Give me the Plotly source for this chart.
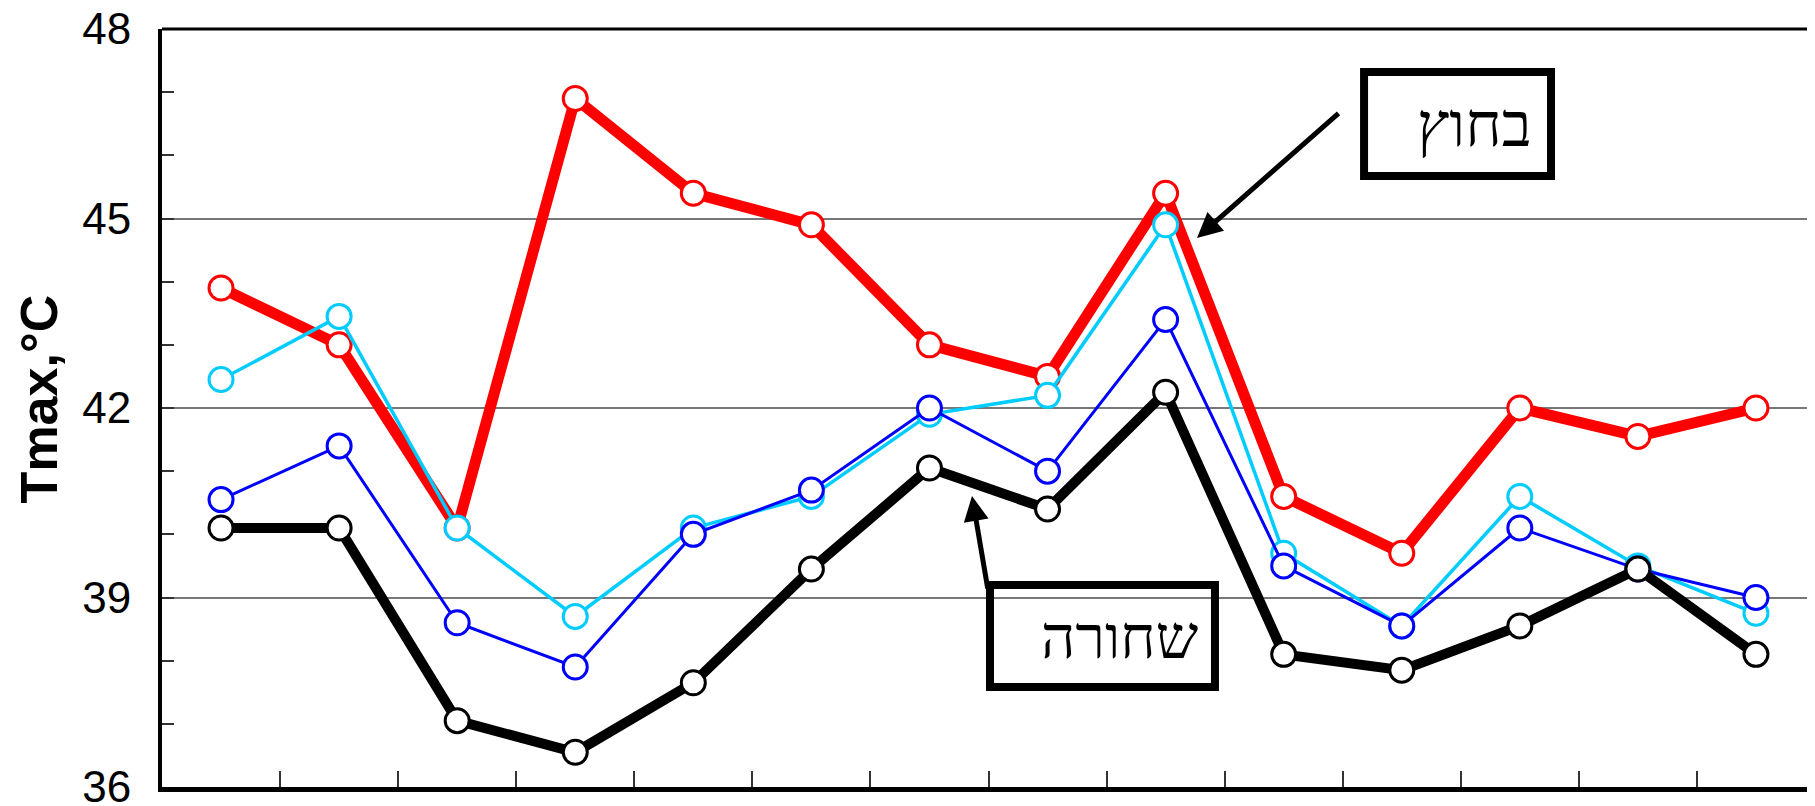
import plotly.graph_objects as go

categories = [str(i) for i in range(1, 15)]
outside_red = [43.9, 43.0, 40.1, 46.9, 45.4, 44.9, 43.0, 42.5, 45.4, 40.6, 39.7, 42.0, 41.55, 42.0]
cyan_series = [42.45, 43.45, 40.1, 38.7, 40.1, 40.6, 41.9, 42.2, 44.9, 39.7, 38.55, 40.6, 39.5, 38.75]
blue_series = [40.55, 41.4, 38.6, 37.9, 40.0, 40.7, 42.0, 41.0, 43.4, 39.5, 38.55, 40.1, 39.45, 39.0]
black_series = [40.1, 40.1, 37.05, 36.55, 37.65, 39.45, 41.05, 40.4, 42.25, 38.1, 37.85, 38.55, 39.45, 38.1]

y_ticks = [36, 39, 42, 45, 48]
label_outside = "בחוץ"
label_black = "שחורה"

series = [
    ("red", outside_red, "#FF0000", 11),
    ("cyan", cyan_series, "#00CCFF", 3.5),
    ("blue", blue_series, "#0000FF", 3),
    ("black", black_series, "#000000", 10),
]

fig = go.Figure()
for name, vals, col, lw in series:
    fig.add_trace(go.Scatter(
        x=categories, y=vals, mode="lines+markers", name=name,
        line=dict(color=col, width=lw),
        marker=dict(symbol="circle", size=24, color="white", line=dict(color=col, width=3)),
        showlegend=False, cliponaxis=False,
    ))

fig.update_layout(
    width=1807, height=798,
    margin=dict(l=154, r=0, t=21, b=19, autoexpand=False),
    plot_bgcolor="white", paper_bgcolor="white",
    font=dict(family="Liberation Sans, Arial, sans-serif", color="black"),
)

fig.update_xaxes(
    type="category", range=[-0.5, 13.5], tickson="boundaries",
    ticks="inside", ticklen=16, tickwidth=1.5, tickcolor="#333",
    showticklabels=False, showgrid=False, zeroline=False, automargin=False,
    showline=True, linewidth=5, linecolor="black",
)
fig.update_yaxes(
    range=[36, 48], tickvals=y_ticks, ticks="inside", ticklen=12, tickwidth=1.5, tickcolor="#333",
    showgrid=True, gridcolor="#777", gridwidth=1.5, zeroline=False, automargin=False,
    showline=True, linewidth=4, linecolor="black",
    tickfont=dict(size=44, family="Liberation Sans, Arial, sans-serif"),
    ticklabelstandoff=18, ticklabeloverflow="allow",
    minor=dict(dtick=1, ticks="inside", ticklen=12, tickwidth=1.5, tickcolor="#333", showgrid=False),
)

# top border
fig.add_shape(type="line", xref="paper", yref="paper", x0=0, x1=1, y0=1, y1=1,
              line=dict(color="black", width=3))

# boxes
fig.add_shape(type="rect", xref="paper", yref="paper", x0=0.7272, x1=0.8403, y0=0.8061, y1=0.9433,
              line=dict(color="black", width=8))
fig.add_shape(type="rect", xref="paper", yref="paper", x0=0.5009, x1=0.6370, y0=0.1319, y1=0.2665,
              line=dict(color="black", width=8))

# y title
fig.add_annotation(x=-0.0745, y=0.5125, xref="paper", yref="paper", text="<b>Tmax,°C</b>",
                   textangle=-90, showarrow=False, xanchor="center", yanchor="middle",
                   font=dict(size=52, family="Liberation Sans, Arial, sans-serif", color="black"))

# hebrew labels
fig.add_annotation(x=0.794, y=0.873, xref="paper", yref="paper", text=label_outside, showarrow=False,
                   xanchor="center", yanchor="middle",
                   font=dict(size=62, family="Liberation Serif, DejaVu Serif, serif", color="black"))
fig.add_annotation(x=0.5796, y=0.1966, xref="paper", yref="paper", text=label_black, showarrow=False,
                   xanchor="center", yanchor="middle",
                   font=dict(size=60, family="Liberation Serif, DejaVu Serif, serif", color="black"))

# arrows
fig.add_annotation(x=(1197 - 162) / 1653, y=(787 - 238) / 758, xref="paper", yref="paper", text="",
                   showarrow=True, ax=143, ay=-126, arrowhead=2, arrowsize=1, arrowwidth=5,
                   arrowcolor="black", standoff=0, startstandoff=0)
fig.add_annotation(x=(972 - 162) / 1653, y=(787 - 496) / 758, xref="paper", yref="paper", text="",
                   showarrow=True, ax=16, ay=94, arrowhead=2, arrowsize=1, arrowwidth=5,
                   arrowcolor="black", standoff=0, startstandoff=0)

fig.write_html("out.html")
